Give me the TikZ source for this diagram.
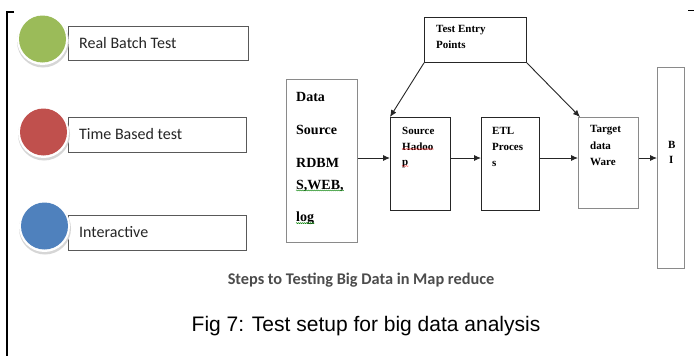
\documentclass[tikz,border=0pt]{standalone}
\usepackage{fontspec}
\setmainfont{Liberation Serif}
\newfontfamily\calib{Carlito}
\newfontfamily\arialf{Liberation Sans}
\usetikzlibrary{arrows.meta,decorations.pathmorphing}
\definecolor{cgreen}{HTML}{9BBB59}
\definecolor{cred}{HTML}{C0504D}
\definecolor{cblue}{HTML}{4F81BD}
\definecolor{edgegray}{HTML}{8A8A8A}
\tikzset{
  dot/.style={circle,minimum size=47pt,inner sep=0pt},
  dotrim/.style={circle,minimum size=51pt,inner sep=0pt,fill=white},
  dotshadow/.style={circle,minimum size=52pt,inner sep=0pt,fill=black!16},
  labelbox/.style={draw=black!65,line width=0.9pt,fill=white,anchor=north west,inner sep=0pt},
  labeltxt/.style={anchor=west,inner sep=0pt,text=black!85,font=\calib\fontsize{16}{18}\selectfont},
  stepbox/.style={draw,line width=0.9pt,inner sep=0pt,anchor=north west},
  txt/.style={anchor=west,inner sep=0pt,font=\bfseries\fontsize{11}{12}\selectfont},
  bigtxt/.style={anchor=west,inner sep=0pt,font=\bfseries\fontsize{14}{15}\selectfont},
  flow/.style={-{Latex[length=7pt,width=6pt]},line width=0.9pt,draw=black!85},
  squiggle/.style={decorate,decoration={snake,amplitude=0.5pt,segment length=2pt},line width=0.4pt}
}
\begin{document}
\begin{tikzpicture}[x=1pt,y=-1pt]
\useasboundingbox (0,0) rectangle (696,356);
\fill[white] (0,0) rectangle (696,356);

% left bracket and right tick
\draw[line width=1.6pt] (14,12) -- (7,12) -- (7,356);
\draw[line width=0.8pt] (688,10) -- (694,10);

% coloured dots with label boxes
\node[labelbox,minimum width=180pt,minimum height=34pt] (lb1) at (68,26) {};
\node[labelbox,minimum width=178pt,minimum height=35pt] (lb2) at (68,117) {};
\node[labelbox,minimum width=178pt,minimum height=35pt] (lb3) at (68,215) {};
\node[dotshadow] (s1) at (43,41.5) {};
\node[dotrim] (r1) at (42.5,39.5) {};
\node[dot,fill=cgreen] (d1) at (42.5,39) {};
\node[dotshadow] (s2) at (44,134.5) {};
\node[dotrim] (r2) at (43.5,132.5) {};
\node[dot,fill=cred] (d2) at (43.5,132) {};
\node[dotshadow] (s3) at (45,228.5) {};
\node[dotrim] (r3) at (44.5,226.5) {};
\node[dot,fill=cblue] (d3) at (44.5,226) {};
\node[labeltxt] at (79,43) {Real Batch Test};
\node[labeltxt] at (79,134) {Time Based test};
\node[labeltxt] at (79,232) {Interactive};

% flow boxes
\node[stepbox,draw=edgegray,minimum width=71pt,minimum height=163pt] (src) at (286,79) {};
\node[stepbox,draw=black!85,minimum width=60pt,minimum height=93pt] (had) at (390,117) {};
\node[stepbox,draw=black!85,minimum width=58pt,minimum height=93pt] (etl) at (481,117) {};
\node[stepbox,draw=edgegray,minimum width=60pt,minimum height=91pt] (tgt) at (578,117) {};
\node[stepbox,draw=edgegray,minimum width=27pt,minimum height=201pt] (bi) at (657,67) {};
\node[stepbox,draw=black!85,minimum width=102pt,minimum height=45pt] (tep) at (424,17) {};

% texts
\node[txt] at (436,30) {Test Entry};
\node[txt] at (436,45) {Points};
\node[bigtxt] (t1) at (296,97) {Data};
\node[bigtxt] (t2) at (296,130) {Source};
\node[bigtxt] (t3) at (296,163) {RDBM};
\node[bigtxt] (t4) at (296,186) {S,WEB,};
\node[bigtxt] (t5) at (296,218) {log};
\node[txt] at (402,131) {Source};
\node[txt] (hd) at (402,147) {Hadoo};
\node[txt] (hp) at (402,164) {p};
\node[txt] at (492,131) {ETL};
\node[txt] at (492,147) {Proces};
\node[txt] at (492,164) {s};
\node[txt] at (590,130) {Target};
\node[txt] at (590,146) {data};
\node[txt] at (590,162) {Ware};
\node[txt] at (668,145) {B};
\node[txt] at (669,160) {I};

% proofing underlines
\draw[squiggle,red!80] ([yshift=2pt]hd.south west) -- ([yshift=2pt]hd.south east);
\draw[squiggle,red!80] ([yshift=2pt]hp.south west) -- ([yshift=2pt]hp.south east);
\draw[squiggle,green!50!black] ([yshift=1.5pt]t4.south west) -- ([yshift=1.5pt]t4.south east);
\draw[squiggle,green!50!black] ([yshift=1.5pt]t5.south west) -- ([yshift=1.5pt]t5.south east);

% connectors
\draw[flow] (src.east |- 0,158) -- (had.west |- 0,158);
\draw[flow] (had.east |- 0,158) -- (etl.west |- 0,158);
\draw[flow] (etl.east |- 0,158) -- (tgt.west |- 0,158);
\draw[flow] (tgt.east |- 0,158) -- (bi.west |- 0,158);
\draw[flow] (tep.south west) -- (had.north west);
\draw[flow] (tep.south east) -- ([xshift=2pt]tgt.north west);

% captions
\node[inner sep=0pt,text=black!70,font=\calib\bfseries\fontsize{16.3}{18}\selectfont] (cap1) at (361,280) {Steps to Testing Big Data in Map reduce};
\node[inner sep=0pt,font=\arialf\fontsize{21}{24}\selectfont] (cap2) at (366,326) {Fig 7: Test setup for big data analysis};
\end{tikzpicture}
\end{document}
